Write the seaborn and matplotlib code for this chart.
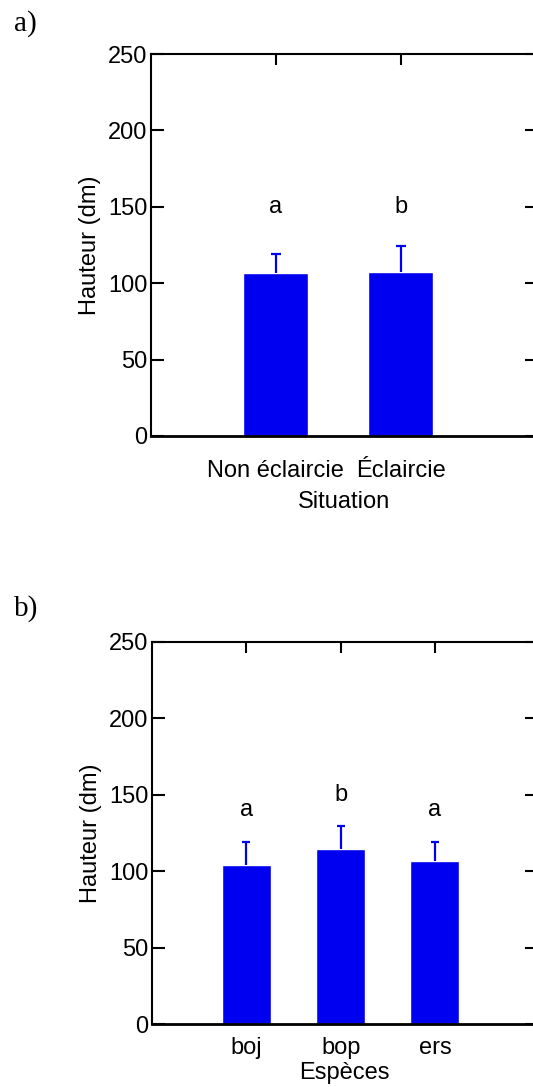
import matplotlib
matplotlib.use('Agg')
import matplotlib.pyplot as plt
import seaborn as sns
import pandas as pd
import numpy as np

# Panel a) data
situations = ['Non éclaircie', 'Éclaircie']
situation_means = [106.7, 107.5]
situation_err = [12.4, 16.8]
situation_letters = ['a', 'b']
situation_letter_y = [150, 150]

# Panel b) data
especes = ['boj', 'bop', 'ers']
especes_means = [103.9, 114.4, 106.5]
especes_err = [15.1, 15.4, 12.8]
especes_letters = ['a', 'b', 'a']
especes_letter_y = [140, 150, 140]

y_ticks = [0, 50, 100, 150, 200, 250]

sns.set_style('white')
plt.rcParams['font.family'] = ['Liberation Sans', 'DejaVu Sans']
plt.rcParams['font.size'] = 17
plt.rcParams['text.color'] = 'black'
plt.rcParams['axes.labelcolor'] = 'black'
plt.rcParams['xtick.color'] = 'black'
plt.rcParams['ytick.color'] = 'black'

fig = plt.figure(figsize=(5.33, 10.87), dpi=100)


def draw_panel(ax, cats, means, errs, letters, letter_y, xlabel, xmax, cap, xpad, lpad):
    df = pd.DataFrame({'cat': cats, 'val': means})
    sns.barplot(data=df, x='cat', y='val', color='#0000f0', saturation=1,
                width=0.52, errorbar=None, ax=ax)
    # upper error bars only
    eb = ax.errorbar(x=list(range(len(cats))), y=means, yerr=[[0] * len(errs), errs],
                     fmt='none', ecolor='#0000f0', elinewidth=1.6, capsize=cap,
                     capthick=1.6, zorder=1)
    for cl in eb[1]:
        if np.allclose(cl.get_ydata(), means):
            cl.set_visible(False)
    for i, (lt, ly) in enumerate(zip(letters, letter_y)):
        ax.text(i, ly, lt, ha='center', va='center', fontsize=17)
    ax.set_xlim(-1, xmax)
    ax.set_ylim(0, 250)
    ax.set_yticks(y_ticks)
    ax.set_ylabel('Hauteur (dm)', labelpad=5)
    ax.set_xlabel(xlabel, labelpad=lpad)
    for s in ax.spines.values():
        s.set_linewidth(1.5)
        s.set_color('black')
    ax.spines['bottom'].set_linewidth(2)
    ax.spines['bottom'].set_zorder(3)
    ax.tick_params(axis='y', direction='in', left=True, right=True,
                   length=9, width=1.5, pad=2.5, labelsize=17)
    ax.tick_params(axis='x', direction='in', bottom=False, top=True,
                   length=8, width=1.5, pad=xpad, labelsize=17)


ax1 = fig.add_axes([0.2833, 0.5989, 0.724, 0.3514])
draw_panel(ax1, situations, situation_means, situation_err, situation_letters,
           situation_letter_y, 'Situation', 2.09, 3.6, 17.5, 6.5)

ax2 = fig.add_axes([0.2852, 0.0577, 0.722, 0.3520])
draw_panel(ax2, especes, especes_means, especes_err, especes_letters,
           especes_letter_y, 'Espèces', 3.08, 2.6, 9, 2.5)

fig.text(14 / 533, 1 - 24 / 1087, 'a)', va='center', ha='left',
         family=['Liberation Serif', 'DejaVu Serif'], fontsize=21)
fig.text(14 / 533, 1 - 609 / 1087, 'b)', va='center', ha='left',
         family=['Liberation Serif', 'DejaVu Serif'], fontsize=21)

fig.savefig('out.png', dpi=100)
